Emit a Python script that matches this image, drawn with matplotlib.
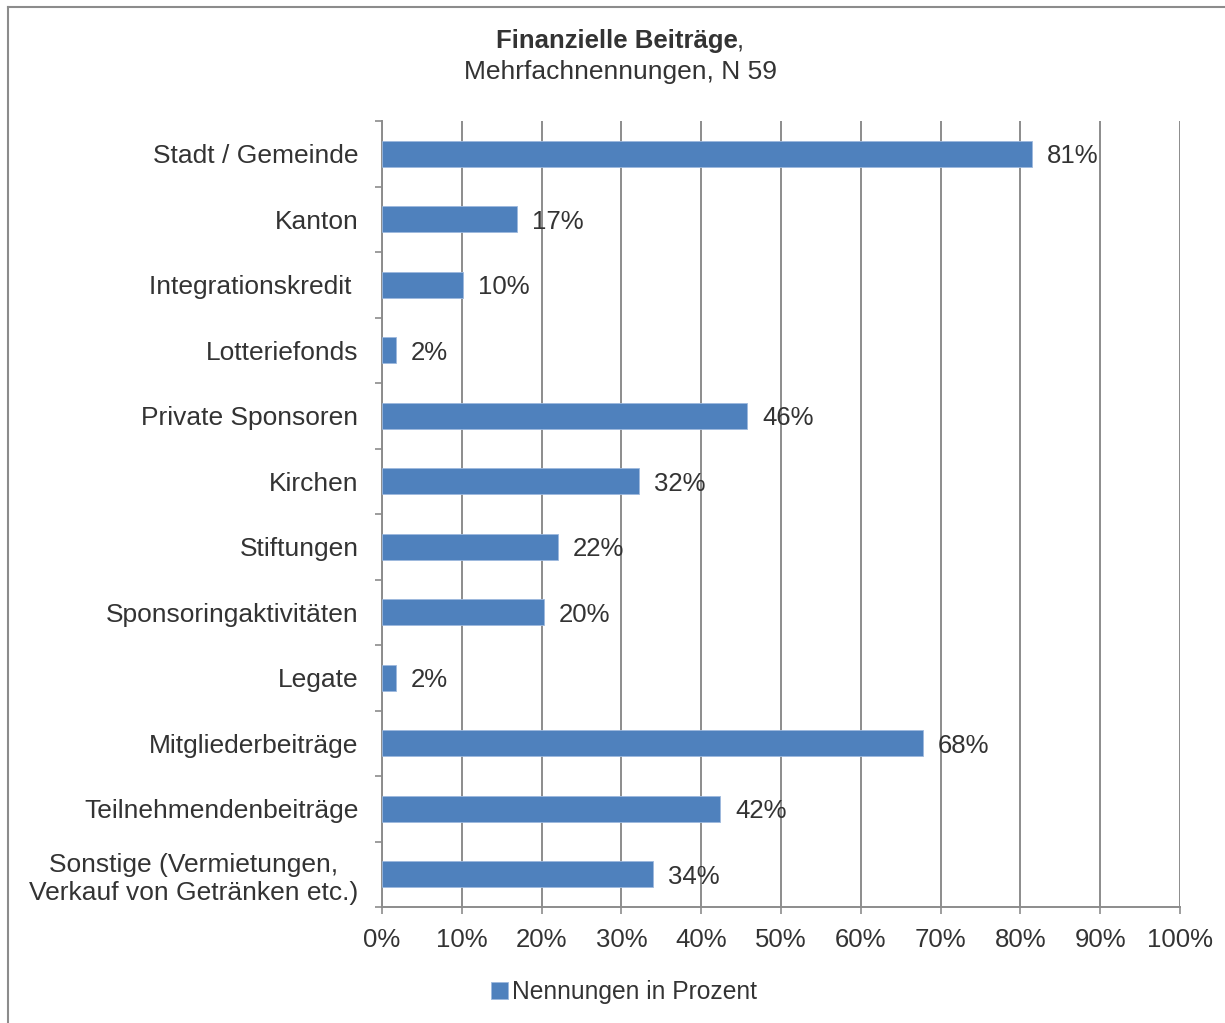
import matplotlib
matplotlib.use("Agg")
import matplotlib.pyplot as plt
import numpy as np
from matplotlib.ticker import FixedLocator, PercentFormatter
from matplotlib.lines import Line2D

plt.rcParams['font.family'] = ['Liberation Sans', 'DejaVu Sans']

categories = ["Stadt / Gemeinde", "Kanton", "Integrationskredit ", "Lotteriefonds",
              "Private Sponsoren", "Kirchen", "Stiftungen", "Sponsoringaktivitäten",
              "Legate", "Mitgliederbeiträge", "Teilnehmendenbeiträge",
              "Sonstige (Vermietungen,\nVerkauf von Getränken etc.)"]
values = [81.4, 16.9, 10.2, 1.7, 45.8, 32.2, 22.0, 20.3, 1.7, 67.8, 42.4, 33.9]
value_labels = ["81%", "17%", "10%", "2%", "46%", "32%", "22%", "20%", "2%", "68%", "42%", "34%"]
xticks = list(range(0, 101, 10))
series_name = "Nennungen in Prozent"

bar_color = "#4F81BD"
text_color = "#333333"
grid_color = "#8C8C8C"
FS = 18.5

fig = plt.figure(figsize=(12.25, 10.23), dpi=100)
ax = fig.add_axes([382/1225, 1-907/1023, (1180-382)/1225, (907-121)/1023])

n = len(categories)
y = np.arange(n)
ax.barh(y, values, height=0.4, color=bar_color, edgecolor="#9DB9DD", linewidth=0.6, zorder=3,
        label=series_name)
ax.set_ylim(n - 0.5, -0.5)
ax.set_xlim(0, 100)

for yi, v, lab in zip(y, values, value_labels):
    ax.annotate(lab, (v, yi), xytext=(15, 0), textcoords="offset pixels",
                va="center_baseline", ha="left", fontsize=FS, color=text_color, zorder=4)

ax.set_yticks(y)
ax.set_yticklabels(categories, fontsize=19, color=text_color, linespacing=1.2)
ax.yaxis.set_minor_locator(FixedLocator(np.arange(-0.5, n, 1.0)))
ax.tick_params(axis="y", which="major", length=0, pad=17)
ax.tick_params(axis="y", which="minor", length=5, width=1.2, color=grid_color, direction="out")
for lbl in ax.get_yticklabels():
    if "\n" in lbl.get_text():
        lbl.set_multialignment("center")

ax.set_xticks(xticks)
ax.xaxis.set_major_formatter(PercentFormatter(decimals=0))
ax.tick_params(axis="x", which="major", length=5, width=1.2, color=grid_color, direction="out",
               labelsize=FS, labelcolor=text_color, pad=10)

ax.grid(axis="x", color=grid_color, linewidth=1.4, zorder=0)
ax.set_axisbelow(True)
for s in ["top", "right"]:
    ax.spines[s].set_visible(False)
for s in ["left", "bottom"]:
    ax.spines[s].set_color(grid_color)
    ax.spines[s].set_linewidth(1.4)

t1 = fig.text(617/1225, 1-41/1023, "Finanzielle Beiträge", ha="center", va="center",
              fontsize=FS, fontweight="bold", color=text_color)
ax.annotate(",", xy=(1, 0), xycoords=t1, xytext=(-1, 0), textcoords="offset points",
            ha="left", va="bottom", fontsize=FS, color=text_color, annotation_clip=False)
fig.text(620/1225, 1-72/1023, "Mehrfachnennungen, N 59", ha="center", va="center",
         fontsize=19, color=text_color)

handles, labels = ax.get_legend_handles_labels()
leg = fig.legend(handles, labels, loc="center", bbox_to_anchor=(624/1225, 1-992/1023),
                 frameon=False, fontsize=17.7, handlelength=0.7, handleheight=0.7,
                 handletextpad=0.15, labelcolor=text_color)

# outer frame
fig.add_artist(Line2D([8/1225, 8/1225], [0, 1-7/1023], transform=fig.transFigure, color="#8C8C8C", lw=1.5))
fig.add_artist(Line2D([8/1225, 1], [1-7/1023, 1-7/1023], transform=fig.transFigure, color="#8C8C8C", lw=1.5))

fig.savefig("out.png", dpi=100)
